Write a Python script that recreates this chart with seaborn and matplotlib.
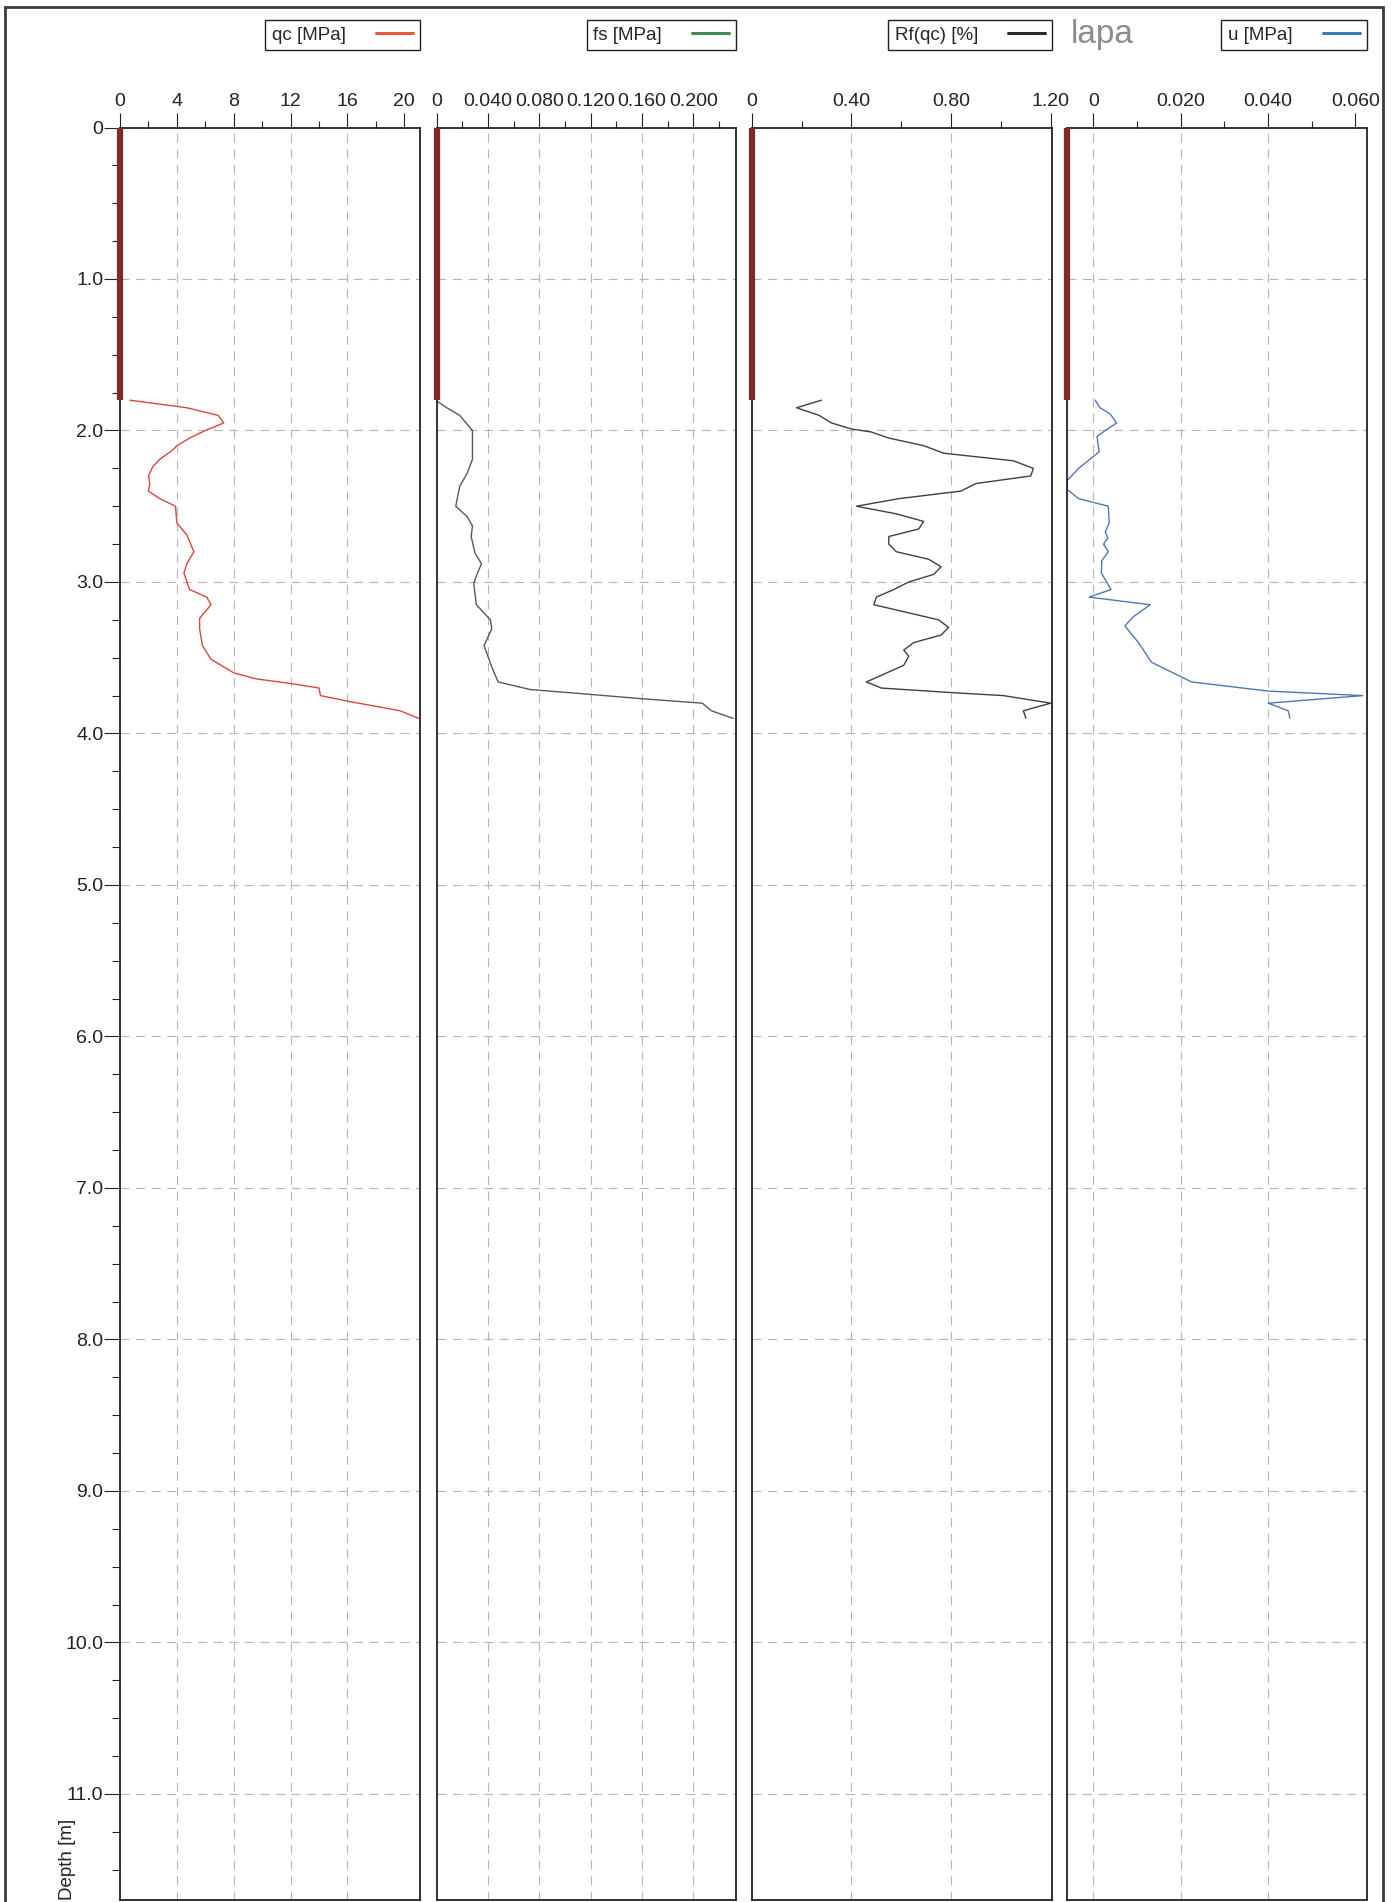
import numpy as np
import pandas as pd
import matplotlib
matplotlib.use('Agg')
import matplotlib.pyplot as plt
import seaborn as sns
from matplotlib.lines import Line2D
from matplotlib.patches import Rectangle
from matplotlib import font_manager

# CPT log, values
qc_depth = [1.80, 1.85, 1.90, 1.95, 2.00, 2.05, 2.10, 2.13, 2.19, 2.24, 2.30, 2.35, 2.40, 2.45,
            2.50, 2.61, 2.69, 2.80, 2.88, 2.94, 3.00, 3.05, 3.10, 3.15, 3.24, 3.31, 3.42, 3.51,
            3.60, 3.64, 3.67, 3.70, 3.75, 3.79, 3.85, 3.90]
qc_mpa = [0.7, 4.7, 6.9, 7.3, 6.0, 4.9, 4.0, 3.7, 2.8, 2.3, 2.0, 2.1, 2.0, 2.8,
          3.9, 4.0, 4.7, 5.2, 4.7, 4.5, 4.7, 4.9, 6.1, 6.4, 5.6, 5.6, 5.8, 6.4,
          8.0, 9.6, 12.0, 14.0, 14.1, 16.2, 19.7, 21.0]

fs_depth = [1.81, 1.85, 1.90, 2.00, 2.19, 2.28, 2.37, 2.50, 2.57, 2.63, 2.70, 2.81, 2.88,
            2.96, 3.01, 3.15, 3.25, 3.31, 3.42, 3.56, 3.66, 3.71, 3.74, 3.77, 3.80, 3.85, 3.90]
fs_mpa = [0.001, 0.008, 0.018, 0.028, 0.028, 0.024, 0.018, 0.015, 0.024, 0.028, 0.027, 0.030, 0.035,
          0.031, 0.029, 0.031, 0.042, 0.043, 0.037, 0.043, 0.048, 0.073, 0.117, 0.159, 0.207, 0.214, 0.231]

rf_depth = [1.80, 1.85, 1.90, 1.95, 1.99, 2.01, 2.05, 2.10, 2.15, 2.20, 2.25, 2.30, 2.35, 2.40,
            2.45, 2.50, 2.55, 2.60, 2.65, 2.70, 2.75, 2.80, 2.85, 2.90, 2.95, 3.00, 3.05, 3.10,
            3.15, 3.25, 3.30, 3.35, 3.40, 3.45, 3.49, 3.55, 3.66, 3.70, 3.73, 3.75, 3.80, 3.85, 3.90]
rf_pct = [0.28, 0.18, 0.27, 0.32, 0.40, 0.48, 0.55, 0.69, 0.77, 1.05, 1.13, 1.12, 0.90, 0.84,
          0.59, 0.42, 0.58, 0.69, 0.67, 0.55, 0.55, 0.58, 0.71, 0.76, 0.73, 0.63, 0.57, 0.50,
          0.49, 0.75, 0.79, 0.76, 0.65, 0.61, 0.63, 0.61, 0.46, 0.52, 0.80, 1.01, 1.20, 1.09, 1.10]

u_depth = [1.80, 1.85, 1.89, 1.95, 2.00, 2.04, 2.14, 2.18, 2.25, 2.33, 2.39, 2.45, 2.50, 2.61,
           2.67, 2.71, 2.75, 2.80, 2.86, 2.94, 3.05, 3.10, 3.15, 3.23, 3.29, 3.40, 3.53, 3.66,
           3.72, 3.75, 3.80, 3.85, 3.90]
u_mpa = [0.0004, 0.0015, 0.0038, 0.0053, 0.0027, 0.0008, 0.0013, -0.0004, -0.0034, -0.0060, -0.0060, -0.0034,
         0.0034, 0.0036, 0.0027, 0.0033, 0.0023, 0.0034, 0.0019, 0.0018, 0.0040, -0.0010, 0.0130,
         0.0091, 0.0072, 0.0103, 0.0133, 0.0225, 0.0400, 0.0617, 0.0400, 0.0446, 0.0450]

predrill_depth = 1.8

# axis setup per panel
x_limits = [(0, 21.1), (0, 0.2332), (0, 1.205), (-0.0060, 0.0626)]
major_ticks = [[0, 4, 8, 12, 16, 20],
               [0, 0.04, 0.08, 0.12, 0.16, 0.20],
               [0, 0.4, 0.8, 1.2],
               [0, 0.02, 0.04, 0.06]]
tick_labels = [['0', '4', '8', '12', '16', '20'],
               ['0', '0.040', '0.080', '0.120', '0.160', '0.200'],
               ['0', '0.40', '0.80', '1.20'],
               ['0', '0.020', '0.040', '0.060']]
minor_ticks = [[2, 6, 10, 14, 18],
               [0.02, 0.06, 0.10, 0.14, 0.18, 0.22],
               [0.2, 0.6, 1.0],
               [0.01, 0.03, 0.05]]
grid_x = [[4, 8, 12, 16],
          [0.04, 0.08, 0.12, 0.16, 0.20],
          [0.4, 0.8],
          [0, 0.02, 0.04]]
legend_names = ['qc [MPa]', 'fs [MPa]', 'Rf(qc) [%]', 'u [MPa]']
legend_colors = ['#e8573f', '#3f8a55', '#2b2b2b', '#3b7bb8']
curve_colors = ['#d9473c', '#4f5d5c', '#404040', '#4f78b8']

depth_ticks = np.arange(0, 12, 1.0)
depth_labels = ['0'] + ['%.1f' % d for d in depth_ticks[1:]]
depth_minor = np.arange(0, 11.75, 0.25)

sns.set_style('white')
avail = {f.name for f in font_manager.fontManager.ttflist}
narrow = 'Liberation Sans Narrow' if 'Liberation Sans Narrow' in avail else 'Liberation Sans'
plt.rcParams['font.family'] = [narrow, 'DejaVu Sans']
tick_size = 15 if narrow.endswith('Narrow') else 14

W, H = 1398, 1902
fig = plt.figure(figsize=(W / 100, H / 100), dpi=100)

# pixel boxes of the four panels (left, right)
panel_px = [(120, 420), (436.5, 736), (751.7, 1052), (1067.3, 1366.7)]
top_px, bot_px = 127.5, 1900

series = [(qc_mpa, qc_depth), (fs_mpa, fs_depth), (rf_pct, rf_depth), (u_mpa, u_depth)]

for i, (l, r) in enumerate(panel_px):
    ax = fig.add_axes([l / W, 1 - bot_px / H, (r - l) / W, (bot_px - top_px) / H])
    xv, yv = series[i]
    df = pd.DataFrame({'x': xv, 'depth': yv})
    sns.lineplot(data=df, x='x', y='depth', sort=False, estimator=None,
                 color=curve_colors[i], lw=1.0, ax=ax)
    ax.set_xlim(*x_limits[i])
    ax.set_ylim(11.7, 0)

    # predrilled section marker on the left edge
    ax.plot([x_limits[i][0]] * 2, [0, predrill_depth], color='#7f2a2a', lw=4.5,
            solid_capstyle='butt', clip_on=False, zorder=5)

    for gx in grid_x[i]:
        ax.axvline(gx, color='#b5b5b5', lw=0.8, ls=(0, (8, 6)), zorder=0)
    for gy in depth_ticks[1:]:
        ax.axhline(gy, color='#b5b5b5', lw=0.8, ls=(0, (8, 6)), zorder=0)

    ax.xaxis.set_ticks_position('top')
    ax.xaxis.set_label_position('top')
    ax.set_xticks(major_ticks[i])
    ax.set_xticklabels(tick_labels[i])
    ax.set_xticks(minor_ticks[i], minor=True)
    ax.tick_params(axis='x', which='major', direction='out', length=11, width=0.8,
                   pad=1.5, labelsize=tick_size, colors='#222222')
    ax.tick_params(axis='x', which='minor', direction='out', length=5, width=0.8, colors='#222222')
    ax.set_xlabel('')

    if i == 0:
        ax.set_yticks(depth_ticks)
        ax.set_yticklabels(depth_labels)
        ax.set_yticks(depth_minor, minor=True)
        ax.tick_params(axis='y', which='major', direction='out', length=11.5, width=0.8,
                       pad=0.5, labelsize=tick_size, colors='#222222', left=True)
        ax.tick_params(axis='y', which='minor', direction='out', length=5.8, width=0.8,
                       colors='#222222', left=True)
        ax.set_ylabel('Depth [m]', loc='bottom', fontsize=13.5, labelpad=-8, color='#222222')
    else:
        ax.set_yticks([])
        ax.set_ylabel('')

    for s in ax.spines.values():
        s.set_linewidth(1.3)
        s.set_color('#222222')
        s.set_visible(True)

    handle = Line2D([], [], color=legend_colors[i], lw=2.2)
    leg = ax.legend([handle], [legend_names[i]], loc='upper right',
                    bbox_to_anchor=(r / W, 1 - 20 / H), bbox_transform=fig.transFigure,
                    markerfirst=False, handlelength=2.0, handletextpad=1.6,
                    borderpad=0.35, borderaxespad=0, fancybox=False, fontsize=13.5,
                    framealpha=1)
    leg.get_frame().set_edgecolor('#222222')
    leg.get_frame().set_linewidth(1.0)

# printed page label and frame
fig.text(1071 / W, 1 - 43 / H, 'lapa', color='#8c8c8c', fontsize=24, va='baseline', ha='left')
fig.add_artist(Rectangle((5 / W, -0.01), (1383 - 5) / W, 1.01 - 7 / H, transform=fig.transFigure,
                         fill=False, lw=2.0, ec='#3c3c3c'))

fig.savefig('out.png', dpi=100)
